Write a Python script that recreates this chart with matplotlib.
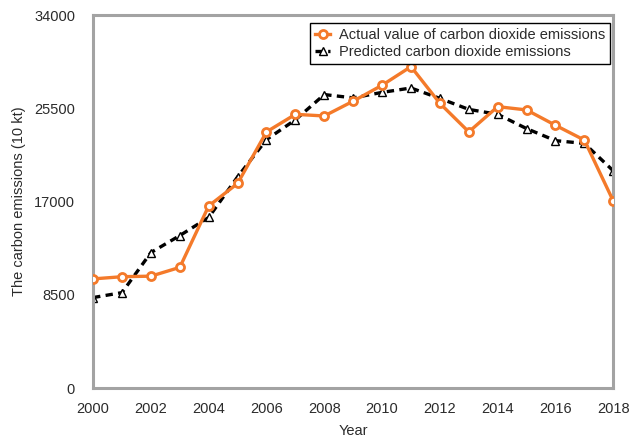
import matplotlib
matplotlib.use("Agg")
import matplotlib.pyplot as plt

years = list(range(2000, 2019))
actual = [9950, 10150, 10200, 11000, 16600, 18650, 23350, 24950, 24800, 26150,
          27600, 29300, 25950, 23350, 25650, 25350, 23950, 22600, 17050]
predicted = [8250, 8700, 12350, 13900, 15550, 19250, 22650, 24450, 26750, 26450,
             26950, 27350, 26400, 25400, 24950, 23650, 22550, 22300, 19800]

y_ticks = [0, 8500, 17000, 25500, 34000]
x_ticks = list(range(2000, 2019, 2))

plt.rcParams["font.family"] = ["Liberation Sans", "DejaVu Sans"]

orange = "#f47a2a"
grey = "#a3a3a3"
txt = "#2b2b2b"

fig = plt.figure(figsize=(6.29, 4.42), dpi=100)
ax = fig.add_axes([0.148, 0.122, 0.827, 0.844])

ax.plot(years, actual, color=orange, lw=2.4, marker="o", ms=5.8,
        mfc="white", mec=orange, mew=2.0, zorder=3,
        label="Actual value of carbon dioxide emissions")
ax.plot(years, predicted, color="black", lw=2.4, ls=(0, (2.2, 1.6)),
        marker="^", ms=6, mfc="white", mec="black", mew=1.0, zorder=2,
        label="Predicted carbon dioxide emissions")

ax.set_xlim(2000, 2018)
ax.set_ylim(0, 34000)
ax.set_xticks(x_ticks)
ax.set_yticks(y_ticks)
ax.tick_params(length=0, labelsize=10.5, labelcolor=txt)
ax.tick_params(axis="y", pad=13)
ax.tick_params(axis="x", pad=10)
for s in ax.spines.values():
    s.set_color(grey)
    s.set_linewidth(2.2)

ax.set_xlabel("Year", fontsize=10.5, color=txt, labelpad=6)
ax.set_ylabel("The carbon emissions (10 kt)", fontsize=10.5, color=txt, labelpad=6)

leg = ax.legend(loc="upper right", bbox_to_anchor=(0.994, 0.979), borderaxespad=0,
                fontsize=10.5, handlelength=1.0, handletextpad=0.6, borderpad=0.35,
                labelspacing=0.2, fancybox=False, framealpha=1)
leg.get_frame().set_edgecolor("black")
leg.get_frame().set_linewidth(1.0)
for t in leg.get_texts():
    t.set_color(txt)

fig.savefig("out.png", dpi=100)
